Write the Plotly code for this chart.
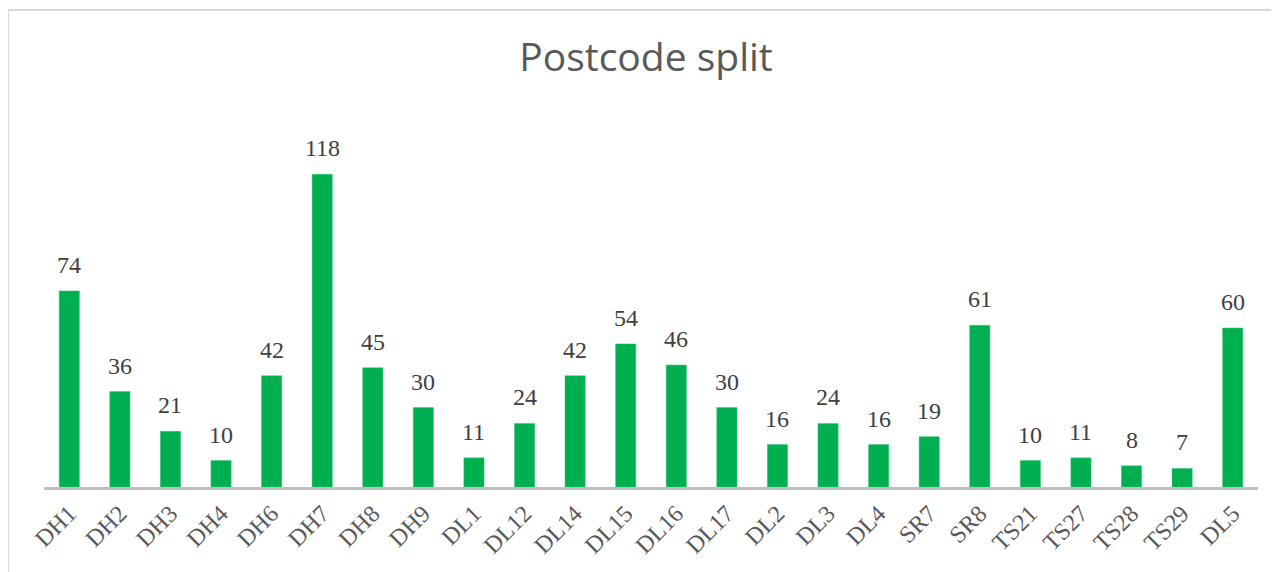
import plotly.graph_objects as go

categories = ["DH1", "DH2", "DH3", "DH4", "DH6", "DH7", "DH8", "DH9", "DL1", "DL12",
              "DL14", "DL15", "DL16", "DL17", "DL2", "DL3", "DL4", "SR7", "SR8",
              "TS21", "TS27", "TS28", "TS29", "DL5"]
values = [74, 36, 21, 10, 42, 118, 45, 30, 11, 24, 42, 54, 46, 30, 16, 24, 16, 19, 61,
          10, 11, 8, 7, 60]

W, H = 1279, 572
OFF = 8  # page body offset
ml, mr, mt, mb = 44 - OFF, 21 + OFF, 116 - OFF, 85 + OFF
pw, ph = W - ml - mr, H - mt - mb

serif = "Liberation Serif, DejaVu Serif, serif"

fig = go.Figure(go.Bar(
    x=categories, y=values,
    marker=dict(color="#00B050", line=dict(color="#3CC47A", width=0.5)),
    width=0.4,
    hoverinfo="x+y",
))

for c, v in zip(categories, values):
    fig.add_annotation(x=c, y=v, text=str(v), showarrow=False, yanchor="bottom",
                       yshift=11, font=dict(family=serif, size=24, color="#404040"))

def px_x(p):
    return (p - OFF - ml) / pw

def px_y(p):
    return (H - mb - (p - OFF)) / ph

fig.add_shape(type="rect", xref="paper", yref="paper",
              x0=px_x(8), x1=px_x(1310), y0=px_y(600), y1=px_y(10),
              line=dict(color="#D9D9D9", width=2), fillcolor="rgba(0,0,0,0)", layer="below")

fig.update_layout(
    width=W, height=H,
    margin=dict(l=ml, r=mr, t=mt, b=mb),
    paper_bgcolor="white", plot_bgcolor="white",
    title=dict(text="Postcode split", x=(646 - OFF) / W, xanchor="center",
               y=1 - (57 - OFF) / H, yanchor="middle",
               font=dict(family="Open Sans, Lato, sans-serif", size=39, color="#595959")),
    showlegend=False,
    xaxis=dict(tickangle=-45, showline=True, linecolor="#BFBFBF", linewidth=3,
               ticks="", showgrid=False, zeroline=False,
               tickfont=dict(family=serif, size=24, color="#595959")),
    yaxis=dict(range=[0, 140], visible=False, showgrid=False, zeroline=False),
)

fig.write_html("out.html")
